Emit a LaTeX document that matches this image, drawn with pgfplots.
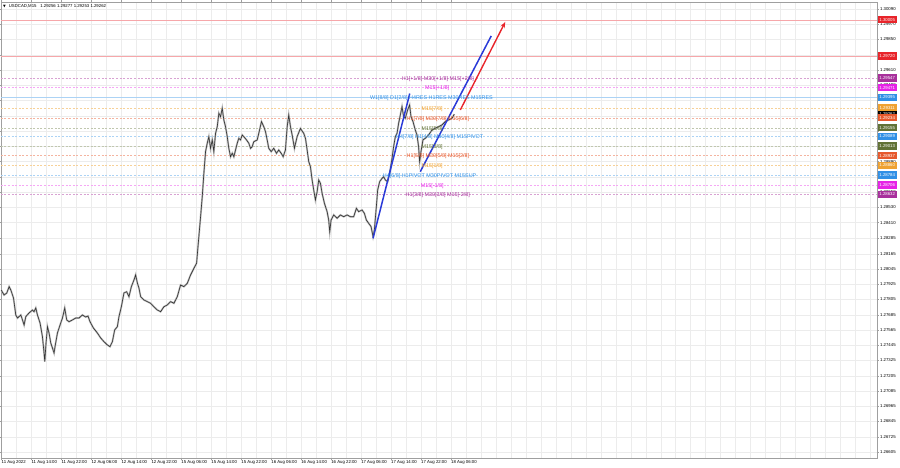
\documentclass[border=0pt]{standalone}
\usepackage{pgfplots}
\usepackage{pgfplotstable}
\pgfplotsset{compat=1.18}
\usepackage{fontspec}
\setmainfont{Liberation Sans}
\newfontfamily\dejavu{DejaVu Sans}
\usetikzlibrary{arrows.meta}

\definecolor{mtred}{HTML}{E8242A}
\definecolor{mtpurple}{HTML}{A8309C}
\definecolor{mtmagenta}{HTML}{E622E6}
\definecolor{mtblue}{HTML}{3090E6}
\definecolor{mtorange}{HTML}{EFA232}
\definecolor{mtorred}{HTML}{E6582C}
\definecolor{mtolive}{HTML}{627236}
\definecolor{trendblue}{HTML}{2A3AD8}
\definecolor{gridgray}{HTML}{ECECEC}

\newcommand{\axfont}{\fontsize{4.3bp}{5bp}\selectfont}
\newcommand{\lvfont}{\fontsize{5.4bp}{6bp}\selectfont}

% level line: colour, price
\newcommand{\solidlevel}[2]{\addplot[#1, line width=0.45bp, forget plot] coordinates {(-0.2,#2) (234,#2)};}
\newcommand{\dashlevel}[2]{\addplot[#1, line width=0.45bp, dash pattern=on 2bp off 1.6bp, forget plot] coordinates {(-0.2,#2) (234,#2)};}
% price box on the right scale: colour, price, text
\newcommand{\pricebox}[3]{\node[fill=#1, text=white, font=\axfont, anchor=west, inner xsep=0.8bp, inner ysep=0pt, minimum height=7.2bp, minimum width=19bp] at (axis cs:233.9,#2) {#3};}

% USDCAD M15 closes, 11-18 Aug 2022 (x = trading hours from 11 Aug 06:00)
\pgfplotstableread{
x p
-0.10 1.27880
0.69 1.27840
1.41 1.27856
2.03 1.27906
2.48 1.27880
3.20 1.27817
3.81 1.27683
4.27 1.27659
5.15 1.27683
5.60 1.27644
6.03 1.27604
6.48 1.27670
7.36 1.27699
8.27 1.27722
8.69 1.27709
9.15 1.27738
9.60 1.27683
10.29 1.27620
10.93 1.27512
11.36 1.27384
11.55 1.27316
11.89 1.27463
12.27 1.27591
12.69 1.27541
13.15 1.27463
13.60 1.27423
14.03 1.27384
14.29 1.27434
14.93 1.27541
15.63 1.27604
16.27 1.27659
16.88 1.27738
17.41 1.27644
18.03 1.27630
18.93 1.27644
19.81 1.27659
20.69 1.27659
21.60 1.27683
22.48 1.27667
23.09 1.27675
23.63 1.27630
24.53 1.27581
25.60 1.27541
26.48 1.27502
27.36 1.27473
28.27 1.27447
28.96 1.27434
29.60 1.27473
30.21 1.27565
30.93 1.27591
31.36 1.27670
32.00 1.27748
32.69 1.27856
33.41 1.27866
34.03 1.27827
34.67 1.27906
35.36 1.27958
35.81 1.27998
36.27 1.27935
36.69 1.27895
37.15 1.27827
38.03 1.27801
38.93 1.27788
39.81 1.27775
40.69 1.27748
41.60 1.27722
42.48 1.27709
43.36 1.27748
44.27 1.27762
45.15 1.27788
46.03 1.27775
46.93 1.27827
47.81 1.27919
48.69 1.27906
49.60 1.27932
50.48 1.27998
51.36 1.28050
52.08 1.28090
52.69 1.28299
53.15 1.28456
53.60 1.28614
54.03 1.28798
54.48 1.28968
54.93 1.29034
55.36 1.29086
55.81 1.28994
56.27 1.29060
56.69 1.28968
57.15 1.29112
57.60 1.29164
58.03 1.29270
58.48 1.29243
58.93 1.29309
59.36 1.29217
59.81 1.29164
60.27 1.29086
60.69 1.28994
61.15 1.28928
61.60 1.28955
62.03 1.28928
62.48 1.28981
62.93 1.29034
63.36 1.29073
63.81 1.29060
64.27 1.29099
64.69 1.29086
65.41 1.29060
66.03 1.29034
66.48 1.28994
66.93 1.29007
67.36 1.29046
68.27 1.29060
68.69 1.29112
69.41 1.29204
70.03 1.29164
70.48 1.29125
70.93 1.29060
71.36 1.28994
72.00 1.28968
72.69 1.28994
73.41 1.28955
74.03 1.28981
74.67 1.28955
75.20 1.28928
75.81 1.28981
76.27 1.29164
76.69 1.29256
77.15 1.29164
77.60 1.29099
78.21 1.28994
78.93 1.29086
79.81 1.29150
80.69 1.29112
81.15 1.29073
81.60 1.28981
82.03 1.28889
82.48 1.28850
82.93 1.28745
83.36 1.28666
83.81 1.28588
84.27 1.28653
84.69 1.28745
85.15 1.28719
85.60 1.28640
86.21 1.28562
86.93 1.28496
87.36 1.28430
87.63 1.28338
88.00 1.28430
88.69 1.28470
89.60 1.28444
90.48 1.28470
91.36 1.28456
92.27 1.28470
93.15 1.28456
94.03 1.28456
94.75 1.28522
95.36 1.28496
96.27 1.28509
96.88 1.28483
97.41 1.28430
98.03 1.28404
98.67 1.28378
99.20 1.28299
99.55 1.28352
100.08 1.28535
100.43 1.28666
100.96 1.28732
101.60 1.28758
102.03 1.28771
102.48 1.28745
103.09 1.28732
103.63 1.28798
104.27 1.28916
104.69 1.29007
105.15 1.29086
105.60 1.29112
106.03 1.29191
106.48 1.29256
106.93 1.29322
107.36 1.29243
107.81 1.29230
108.43 1.29296
108.96 1.29335
109.33 1.29243
109.87 1.29204
110.48 1.29138
110.93 1.29099
111.36 1.29007
111.63 1.28889
112.00 1.28968
112.53 1.29060
113.15 1.29073
114.03 1.29099
114.93 1.29138
115.81 1.29152
116.69 1.29164
117.60 1.29178
118.48 1.29204
119.36 1.29217
120.27 1.29230
120.88 1.29262
}\pricedata

\begin{document}
\begin{tikzpicture}
\useasboundingbox (0,0) rectangle (900bp,468bp);
\begin{axis}[
  at={(0.8bp,10bp)}, anchor=south west,
  scale only axis, width=876bp, height=456bp,
  xmin=-0.19, xmax=233.7,
  ymin=1.26558, ymax=1.30145,
  clip mode=individual,
  axis line style={gray!75, line width=0.5bp},
  tick style={gray!75, line width=0.4bp},
  tick align=outside, major tick length=2bp, minor tick length=0bp,
  xtick={0,8,...,120},
  minor xtick={4,8,...,232},
  xticklabels={11 Aug 2022, 11 Aug 14:00, 11 Aug 22:00, 12 Aug 06:00, 12 Aug 14:00, 12 Aug 22:00, 15 Aug 06:00, 15 Aug 14:00, 15 Aug 22:00, 16 Aug 06:00, 16 Aug 14:00, 16 Aug 22:00, 17 Aug 06:00, 17 Aug 14:00, 17 Aug 22:00, 18 Aug 06:00},
  xticklabel style={font=\axfont, anchor=north west, inner sep=0.6bp, xshift=-0.6bp},
  ytick={1.26605,1.26725,1.26845,1.26965,1.27085,1.27205,1.27325,1.27445,1.27565,1.27685,1.27805,1.27925,1.28045,1.28165,1.28285,1.28410,1.28530,1.28650,1.28770,1.28890,1.29010,1.29130,1.29250,1.29370,1.29490,1.29610,1.29730,1.29850,1.29970,1.30090},
  % labels hidden behind the price boxes are left empty
  yticklabels={1.26605,1.26725,1.26845,1.26965,1.27085,1.27205,1.27325,1.27445,1.27565,1.27685,1.27805,1.27925,1.28045,1.28165,1.28285,1.28410,1.28530,1.28650,,1.28890,,,,,1.29490,1.29610,1.29730,1.29850,1.29970,1.30090},
  yticklabel pos=right,
  yticklabel style={font=\axfont, anchor=west, inner sep=0.6bp, xshift=0.5bp},
  grid=both,
  grid style={gridgray, line width=0.4bp},
  minor grid style={gridgray, line width=0.4bp},
]
% support / resistance levels
\solidlevel{mtred!40}{1.30005}
\solidlevel{mtred!40}{1.29720}
\dashlevel{mtpurple!45}{1.29547}
\dashlevel{mtmagenta!40}{1.29471}
\solidlevel{mtblue!40}{1.29395}
\dashlevel{mtorange!50}{1.29311}
\dashlevel{mtorred!45}{1.29234}
\dashlevel{mtolive!40}{1.29155}
\dashlevel{mtblue!40}{1.29089}
\dashlevel{mtolive!40}{1.29013}
\dashlevel{mtorred!45}{1.28937}
\dashlevel{mtorange!50}{1.28860}
\dashlevel{mtblue!40}{1.28784}
\dashlevel{mtmagenta!40}{1.28706}
\dashlevel{mtpurple!45}{1.28632}

% price
\addplot[gray!55, line width=1.8bp, forget plot] table[x=x, y=p] {\pricedata};
\addplot[black!80, line width=0.6bp, forget plot] table[x=x, y=p] {\pricedata};

% trend lines
\addplot[trendblue, line width=1.5bp, forget plot] coordinates {(99.2,1.28286) (109.0,1.29425)};
\addplot[trendblue, line width=1.5bp, forget plot] coordinates {(111.8,1.28810) (130.75,1.29878)};
\addplot[mtred, line width=1.4bp, -{Stealth[length=6bp,width=4.5bp]}, forget plot] coordinates {(122.5,1.29296) (134.5,1.29988)};

% level labels
\begin{scope}[every node/.style={font=\lvfont, inner sep=0pt, yshift=-0.8bp}]
\node[text=mtpurple] at (axis cs:116.5,1.29547) {H1[+1/8] M30[+1/8] M15[+2/8]};
\node[text=mtmagenta] at (axis cs:116.3,1.29471) {M15[+1/8]};
\node[text=mtblue] at (axis cs:114.8,1.29395) {W1[8/8] D1[2/8] H4RES H1RES M30RES M15RES};
\node[text=mtorange] at (axis cs:115.0,1.29311) {M15[7/8]};
\node[text=mtorred] at (axis cs:116.5,1.29234) {H1[7/8] M30[7/8] M15[6/8]};
\node[text=mtolive] at (axis cs:115.0,1.29155) {M15[5/8]};
\node[text=mtblue] at (axis cs:117.0,1.29089) {H4[7/8] H1[4/8] M30[4/8] M15PIVOT};
\node[text=mtolive] at (axis cs:115.0,1.29013) {M15[3/8]};
\node[text=mtorred] at (axis cs:116.5,1.28937) {H1[5/8] M30[5/8] M15[2/8]};
\node[text=mtorange] at (axis cs:115.0,1.28860) {M15[1/8]};
\node[text=mtblue] at (axis cs:114.3,1.28784) {H4[6/8] H1PIVOT M30PIVOT M15SUP};
\node[text=mtmagenta] at (axis cs:115.0,1.28706) {M15[-1/8]};
\node[text=mtpurple] at (axis cs:116.5,1.28632) {H1[3/8] M30[3/8] M15[-2/8]};
\end{scope}

% price boxes on the scale
\pricebox{mtred}{1.30005}{1.30005}
\pricebox{mtred}{1.29720}{1.29720}
\pricebox{mtpurple}{1.29547}{1.29547}
\pricebox{mtmagenta}{1.29471}{1.29471}
\pricebox{mtblue}{1.29395}{1.29395}
\pricebox{mtorange}{1.29311}{1.29311}
\pricebox{black}{1.29262}{1.29262}
\pricebox{mtorred}{1.29234}{1.29234}
\pricebox{mtolive}{1.29155}{1.29155}
\pricebox{mtblue}{1.29089}{1.29089}
\pricebox{mtolive}{1.29013}{1.29013}
\pricebox{mtorred}{1.28937}{1.28937}
\pricebox{mtorange}{1.28860}{1.28860}
\pricebox{mtblue}{1.28784}{1.28784}
\pricebox{mtmagenta}{1.28706}{1.28706}
\pricebox{mtpurple}{1.28632}{1.28632}

% chart caption
\node[anchor=west, font=\axfont, inner sep=0pt] at (rel axis cs:0,1) [xshift=2.2bp, yshift=-4.5bp] {{\dejavu\fontsize{3.5bp}{4bp}\selectfont ▼}\hspace{3bp}USDCAD,M15\hspace{2.5bp} 1.29256 1.29277 1.29253 1.29262};
\end{axis}
\end{tikzpicture}
\end{document}
